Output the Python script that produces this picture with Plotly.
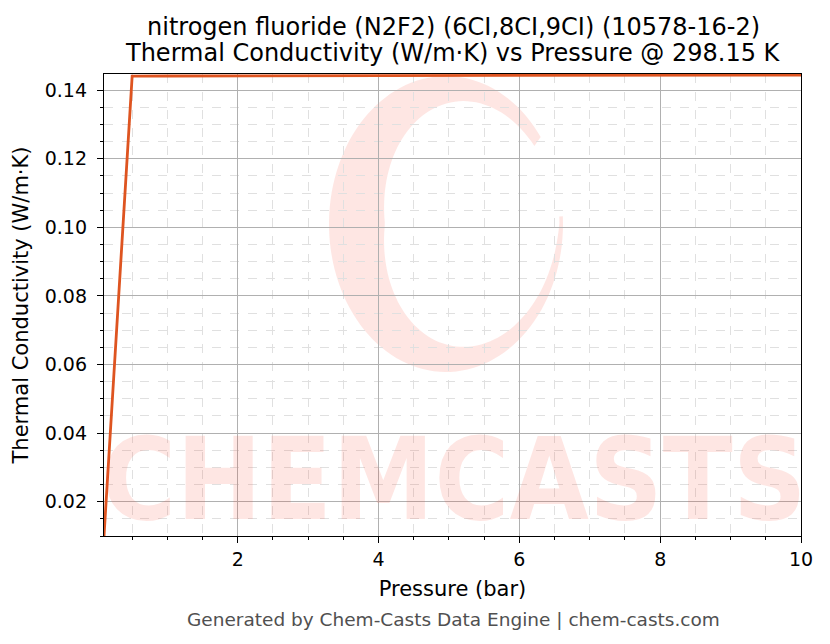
import numpy as np
import plotly.graph_objects as go

# ---- data ----
pressure_bar = [0.1, 0.5, 1.0, 2.0, 3.0, 4.0, 5.0, 6.0, 7.0, 8.0, 9.0, 10.0]
thermal_cond = [0.0100, 0.14410, 0.14412, 0.14415, 0.14418, 0.14421, 0.14424,
                0.14427, 0.14430, 0.14433, 0.14436, 0.14440]
x_ticks = [2, 4, 6, 8, 10]
y_ticks = [0.02, 0.04, 0.06, 0.08, 0.10, 0.12, 0.14]

title_lines = ["nitrogen fluoride (N2F2) (6CI,8CI,9CI) (10578-16-2)",
               "Thermal Conductivity (W/m·K) vs Pressure @ 298.15 K"]

W, H = 830, 644
L, R, T, B = 104, 801, 74, 536
FONT = "DejaVu Sans"
WM = "rgba(250,60,40,0.13)"

fig = go.Figure()
fig.add_trace(go.Scatter(x=pressure_bar, y=thermal_cond, mode="lines",
                         line=dict(color="#DE5420", width=2.8),
                         showlegend=False, cliponaxis=True))

# ---- watermark swirl (paper coords) ----
def to_paper(px, py):
    return (px - L) / (R - L), (B - py) / (B - T)

cx, cy, rx, ry = 446, 224, 117, 148
th = np.linspace(np.deg2rad(36), np.deg2rad(363), 120)
mid = np.deg2rad(180)
span = np.deg2rad(180)
thick = 6 + 34 * np.clip(1 - np.abs(th - mid) / span, 0, 1) ** 0.8
outer = [(cx + rx * np.cos(t), cy - ry * np.sin(t)) for t in th]
inner = [(cx + (rx - k) * np.cos(t) + 0.4 * k, cy - (ry - k) * np.sin(t))
         for t, k in zip(th[::-1], thick[::-1])]
pts = [to_paper(px, py) for px, py in outer + inner]
path = "M " + " L ".join(f"{a:.4f},{b:.4f}" for a, b in pts) + " Z"
fig.add_shape(type="path", path=path, xref="paper", yref="paper",
              fillcolor=WM, line=dict(width=0), layer="below")

fig.add_annotation(text="<b>CHEMCASTS</b>", xref="paper", yref="paper",
                   x=to_paper(454, 0)[0], y=to_paper(0, 479)[1], xanchor="center", yanchor="middle",
                   showarrow=False,
                   font=dict(family="DejaVu Sans Condensed", size=114, color=WM))

# ---- titles ----
for line, py in zip(title_lines, [27, 53]):
    fig.add_annotation(text=line, xref="paper", yref="paper",
                       x=to_paper(453, 0)[0], y=to_paper(0, py)[1], xanchor="center",
                       yanchor="middle", showarrow=False,
                       font=dict(family=FONT, size=24, color="black"))
fig.add_annotation(text="Generated by Chem-Casts Data Engine | chem-casts.com",
                   xref="paper", yref="paper", x=to_paper(453, 0)[0], y=to_paper(0, 619)[1],
                   xanchor="center", yanchor="middle", showarrow=False,
                   font=dict(family=FONT, size=18.5, color="#505050"))

axis_common = dict(showline=True, linecolor="black", linewidth=1.3, mirror=True,
                   ticks="outside", ticklen=6, tickwidth=1.2, tickcolor="black",
                   showgrid=True, gridcolor="#b0b0b0", gridwidth=0.8,
                   zeroline=False, tickfont=dict(family=FONT, size=19, color="black"))

fig.update_xaxes(**axis_common, range=[0.1, 10], tickvals=x_ticks,
                 title=dict(text="Pressure (bar)", font=dict(family=FONT, size=21, color="black"),
                            standoff=12),
                 minor=dict(dtick=0.5, tick0=0, ticks="outside", ticklen=3, tickcolor="black",
                            showgrid=True, gridcolor="#e0e0e0", griddash="dash", gridwidth=0.6))
fig.update_yaxes(**axis_common, range=[0.01, 0.1447], tickvals=y_ticks, tickformat=".2f",
                 ticklabelstandoff=6,
                 title=dict(text="Thermal Conductivity (W/m·K)",
                            font=dict(family=FONT, size=21, color="black"), standoff=10),
                 minor=dict(dtick=0.005, tick0=0, ticks="outside", ticklen=3, tickcolor="black",
                            showgrid=True, gridcolor="#e0e0e0", griddash="dash", gridwidth=0.6))

fig.update_layout(width=W, height=H, paper_bgcolor="white", plot_bgcolor="white",
                  margin=dict(l=L, r=W - R, t=T, b=H - B, autoexpand=False),
                  font=dict(family=FONT))

fig.write_html("out.html", config={"displayModeBar": False},
               post_script="document.body.style.margin='0px';")
